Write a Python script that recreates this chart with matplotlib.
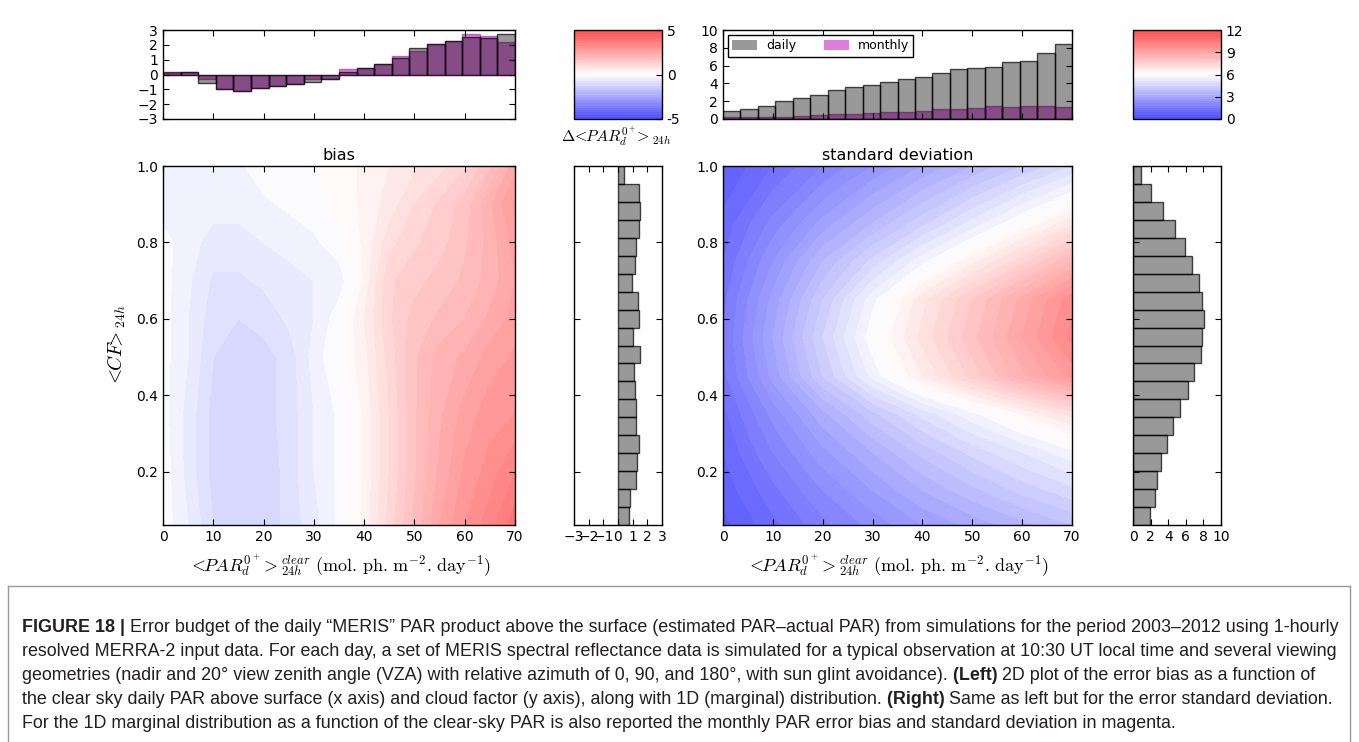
import numpy as np
import matplotlib
matplotlib.use('Agg')
import matplotlib.pyplot as plt
from matplotlib.colors import ListedColormap
from matplotlib.patches import Patch
from matplotlib.lines import Line2D
from matplotlib import font_manager

plt.rcParams['mathtext.fontset'] = 'cm'
plt.rcParams['font.family'] = ['DejaVu Sans']
plt.rcParams['xtick.direction'] = 'in'
plt.rcParams['ytick.direction'] = 'in'
plt.rcParams['xtick.top'] = True
plt.rcParams['ytick.right'] = True
plt.rcParams['xtick.major.size'] = 4
plt.rcParams['ytick.major.size'] = 4
plt.rcParams['xtick.labelsize'] = 10
plt.rcParams['ytick.labelsize'] = 10
plt.rcParams['axes.linewidth'] = 1.0

# ---- data ----
par_edges = np.linspace(0, 70, 21)          # clear-sky PAR bins
cf_edges = np.linspace(0.06, 1.0, 21)       # cloud factor bins

bias_par_daily = [0.19, 0.15, -0.57, -1.00, -1.09, -0.89, -0.80, -0.64, -0.53, -0.30,
                  0.19, 0.46, 0.73, 1.13, 1.76, 2.06, 2.26, 2.50, 2.46, 2.73]
bias_par_monthly = [0.08, 0.15, -0.33, -1.00, -1.09, -0.89, -0.80, -0.64, -0.30, -0.30,
                    0.35, 0.46, 0.73, 1.22, 1.61, 2.06, 2.26, 2.75, 2.60, 2.21]

std_par_daily = [0.94, 1.16, 1.46, 2.06, 2.36, 2.70, 3.26, 3.60, 3.86, 4.20,
                 4.46, 4.72, 5.13, 5.58, 5.77, 5.84, 6.37, 6.55, 7.42, 8.43]
std_par_monthly = [0.22, 0.26, 0.19, 0.26, 0.34, 0.41, 0.60, 0.60, 0.67, 0.79,
                   0.79, 0.90, 1.09, 1.12, 1.27, 1.46, 1.31, 1.46, 1.46, 1.31]

# bottom -> top
bias_cf = [0.75, 0.80, 1.23, 1.28, 1.42, 1.23, 1.26, 1.14, 1.10, 1.48,
           1.03, 1.44, 1.35, 0.94, 1.14, 1.21, 1.44, 1.53, 1.42, 0.42]
std_cf = [1.90, 2.49, 2.68, 3.21, 3.89, 4.60, 5.36, 6.26, 6.98, 7.74,
          7.81, 8.08, 7.85, 7.51, 6.72, 5.96, 4.79, 3.43, 2.00, 0.94]

# 2D fields
bias_par_nodes = [0, 5, 10, 15, 20, 25, 30, 35, 40, 45, 50, 55, 60, 65, 70]
bias_cf_nodes = [0.06, 0.2, 0.35, 0.5, 0.6, 0.7, 0.8, 0.9, 1.0]
bias_grid = [
    [-0.1, -0.5, -1.0, -1.2, -1.2, -0.9, -0.6, -0.2, 0.3, 1.1, 1.8, 2.5, 3.0, 3.4, 3.9],
    [-0.1, -0.6, -1.1, -1.2, -1.2, -0.9, -0.5, -0.2, 0.3, 1.0, 1.7, 2.3, 2.8, 3.1, 3.5],
    [-0.15, -0.6, -1.1, -1.2, -1.1, -0.9, -0.5, -0.2, 0.3, 1.0, 1.7, 2.2, 2.6, 2.9, 3.0],
    [-0.15, -0.5, -1.0, -1.1, -1.1, -0.9, -0.4, 0.0, 0.4, 1.1, 1.7, 2.1, 2.3, 2.6, 2.8],
    [-0.15, -0.5, -0.9, -1.0, -0.9, -0.7, -0.5, -0.1, 0.5, 1.2, 1.6, 1.8, 2.0, 2.3, 2.6],
    [-0.15, -0.45, -0.8, -0.8, -0.7, -0.6, -0.5, -0.4, 0.3, 1.2, 1.4, 1.6, 1.8, 2.1, 2.5],
    [-0.15, -0.4, -0.6, -0.6, -0.5, -0.4, -0.3, -0.1, 0.3, 0.9, 1.2, 1.4, 1.7, 2.1, 2.6],
    [-0.4, -0.4, -0.4, -0.4, -0.3, -0.2, -0.1, 0.1, 0.3, 0.6, 1.0, 1.3, 1.6, 2.2, 2.8],
    [-0.5, -0.4, -0.3, -0.3, -0.1, 0.0, 0.0, 0.1, 0.3, 0.5, 0.7, 0.9, 1.2, 1.7, 2.4],
]

std_par_nodes = [0, 10, 20, 30, 40, 50, 60, 70]
std_cf_nodes = [0.06, 0.15, 0.25, 0.35, 0.45, 0.55, 0.65, 0.75, 0.85, 1.0]
std_grid = [
    [0.5, 1.1, 1.7, 2.2, 2.7, 3.1, 3.5, 3.9],
    [0.7, 1.4, 2.1, 2.7, 3.3, 3.8, 4.3, 4.7],
    [0.9, 1.8, 2.6, 3.3, 4.0, 4.6, 5.1, 5.6],
    [1.1, 2.2, 3.2, 4.1, 4.9, 5.6, 6.3, 7.0],
    [1.4, 2.8, 4.2, 5.5, 6.6, 7.6, 8.6, 9.4],
    [1.5, 3.0, 4.5, 5.9, 7.0, 8.0, 9.0, 10.0],
    [1.4, 2.8, 4.2, 5.6, 6.8, 7.8, 8.8, 9.8],
    [1.2, 2.4, 3.6, 4.6, 5.6, 6.5, 7.4, 8.4],
    [1.0, 1.9, 2.8, 3.6, 4.4, 5.2, 6.0, 6.8],
    [0.6, 1.2, 1.8, 2.4, 3.0, 3.6, 4.2, 4.8],
]

caption_lines = [
    [("FIGURE 18 |", True), (" Error budget of the daily \u201cMERIS\u201d PAR product above the surface (estimated PAR\u2013actual PAR) from simulations for the period 2003\u20132012 using 1-hourly", False)],
    [("resolved MERRA-2 input data. For each day, a set of MERIS spectral reflectance data is simulated for a typical observation at 10:30 UT local time and several viewing", False)],
    [("geometries (nadir and 20\u00b0 view zenith angle (VZA) with relative azimuth of 0, 90, and 180\u00b0, with sun glint avoidance).", False), (" (Left)", True), (" 2D plot of the error bias as a function of", False)],
    [("the clear sky daily PAR above surface (x axis) and cloud factor (y axis), along with 1D (marginal) distribution.", False), (" (Right)", True), (" Same as left but for the error standard deviation.", False)],
    [("For the 1D marginal distribution as a function of the clear-sky PAR is also reported the monthly PAR error bias and standard deviation in magenta.", False)],
]

# ---- figure ----
W, H = 1359, 742
fig = plt.figure(figsize=(W / 100, H / 100), dpi=100)


def pos(x0, y0, x1, y1):
    return [x0 / W, 1 - y1 / H, (x1 - x0) / W, (y1 - y0) / H]


base = plt.get_cmap('bwr')(np.linspace(0, 1, 256))
cmap = ListedColormap(0.7 * base[:, :3] + 0.3)

daily_col = (0, 0, 0, 0.4)
daily_edge = (0, 0, 0, 0.7)
month_col = (0.75, 0, 0.75, 0.5)
month_edge = (0.55, 0, 0.55, 0.5)

xlab = r'$<\!\!PAR_d^{0^+}\!>_{24h}^{clear}\ (\mathrm{mol.\,ph.\,m^{-2}.\,day^{-1}})$'

ax_tl = fig.add_axes(pos(163, 30, 515, 119))
cax1 = fig.add_axes(pos(574, 30, 662, 119))
ax_tr = fig.add_axes(pos(723, 30, 1072, 119))
cax2 = fig.add_axes(pos(1133, 30, 1221, 119))
ax_b = fig.add_axes(pos(163, 166, 515, 525))
ax_mb = fig.add_axes(pos(574, 166, 662, 525))
ax_s = fig.add_axes(pos(723, 166, 1072, 525))
ax_ms = fig.add_axes(pos(1133, 166, 1221, 525))

# main contour panels
cs1 = ax_b.contourf(bias_par_nodes, bias_cf_nodes, bias_grid,
                    levels=np.linspace(-5, 5, 41), cmap=cmap)
cs2 = ax_s.contourf(std_par_nodes, std_cf_nodes, std_grid,
                    levels=np.linspace(0, 12, 41), cmap=cmap)
for ax, title in [(ax_b, 'bias'), (ax_s, 'standard deviation')]:
    ax.set_xlim(0, 70)
    ax.set_ylim(0.06, 1.0)
    ax.set_xticks(range(0, 71, 10))
    ax.set_yticks([0.2, 0.4, 0.6, 0.8, 1.0])
    ax.set_title(title, fontsize=11.5, pad=4)
    ax.set_xlabel(xlab, fontsize=13, labelpad=6)
ax_b.set_ylabel(r'$<\!\!CF\!\!>_{24h}$', fontsize=14, labelpad=6)

# top histograms
w = par_edges[1] - par_edges[0]
ax_tl.bar(par_edges[:-1], bias_par_monthly, width=w, align='edge',
          color=month_col, edgecolor=month_edge, lw=1)
ax_tl.bar(par_edges[:-1], bias_par_daily, width=w, align='edge',
          color=daily_col, edgecolor=daily_edge, lw=1)
ax_tl.set_ylim(-3, 3)
ax_tl.set_yticks(range(-3, 4))

ax_tr.bar(par_edges[:-1], std_par_monthly, width=w, align='edge',
          color=month_col, edgecolor=month_edge, lw=1)
ax_tr.bar(par_edges[:-1], std_par_daily, width=w, align='edge',
          color=daily_col, edgecolor=daily_edge, lw=1)
ax_tr.set_ylim(0, 10)
ax_tr.set_yticks(range(0, 11, 2))
ax_tr.legend(handles=[Patch(facecolor=daily_col, edgecolor='none', label='daily'),
                      Patch(facecolor=month_col, edgecolor='none', label='monthly')],
             loc='upper left', ncol=2, fontsize=9, fancybox=False, edgecolor='k',
             framealpha=1, handlelength=2.0, handleheight=0.9, handletextpad=0.7,
             columnspacing=2.2, borderpad=0.35, borderaxespad=0.4)
for ax in (ax_tl, ax_tr):
    ax.set_xlim(0, 70)
    ax.set_xticks(range(0, 71, 10))
    ax.set_xticklabels([])

# side histograms
h = cf_edges[1] - cf_edges[0]
ax_mb.barh(cf_edges[:-1], bias_cf, height=h, align='edge',
           color=daily_col, edgecolor=daily_edge, lw=1)
ax_mb.set_xlim(-3, 3)
ax_mb.set_xticks(range(-3, 4))
ax_ms.barh(cf_edges[:-1], std_cf, height=h, align='edge',
           color=daily_col, edgecolor=daily_edge, lw=1)
ax_ms.set_xlim(0, 10)
ax_ms.set_xticks(range(0, 11, 2))
for ax in (ax_mb, ax_ms):
    ax.set_ylim(0.06, 1.0)
    ax.set_yticks([0.2, 0.4, 0.6, 0.8])
    ax.set_yticklabels([])

# colorbars
cb1 = fig.colorbar(cs1, cax=cax1, ticks=[-5, 0, 5])
cb1.ax.set_yticklabels(['-5', '0', '5'])
cb2 = fig.colorbar(cs2, cax=cax2, ticks=[0, 3, 6, 9, 12])
for cb in (cb1, cb2):
    cb.ax.tick_params(direction='in', length=4, labelsize=10, left=False, right=True)
    cb.outline.set_linewidth(1.0)
fig.text(616 / W, 1 - 137 / H, r'$\Delta\!<\!\!PAR_d^{0^+}\!\!>_{24h}$', ha='center',
         va='center', fontsize=11.5)

# caption frame
gray = (0.6, 0.6, 0.6)
fy = 1 - 586 / H
fig.add_artist(Line2D([8 / W, 1350 / W], [fy, fy], color=gray, lw=1))
fig.add_artist(Line2D([8 / W, 8 / W], [fy, 0], color=gray, lw=1))
fig.add_artist(Line2D([1350 / W, 1350 / W], [fy, 0], color=gray, lw=1))

# caption text
names = {f.name for f in font_manager.fontManager.ttflist}
cap_font = 'Liberation Sans' if 'Liberation Sans' in names else 'DejaVu Sans'
renderer = fig.canvas.get_renderer()
probe = fig.text(0, 0, caption_lines[1][0][0], fontsize=12, family=cap_font)
pw = probe.get_window_extent(renderer).width
probe.remove()
cap_size = 12 * 1316 / pw

x0 = 22
baselines = [632, 656, 680, 704, 728]
for yb, segs in zip(baselines, caption_lines):
    x = x0
    for txt, bold in segs:
        t = fig.text(x / W, 1 - yb / H, txt, fontsize=cap_size, family=cap_font,
                     fontweight='bold' if bold else 'normal', color='#231f20',
                     ha='left', va='baseline')
        x += t.get_window_extent(renderer).width

fig.savefig('out.png', dpi=100)
